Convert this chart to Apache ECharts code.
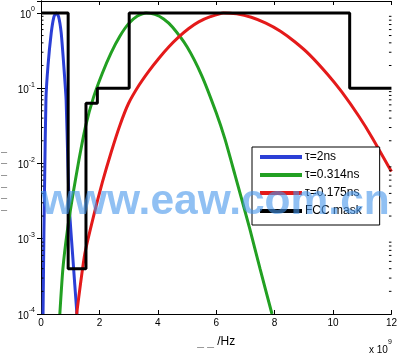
<!DOCTYPE html>
<html>
<head>
<meta charset="utf-8">
<script src="https://cdn.jsdelivr.net/npm/echarts@6/dist/echarts.min.js"></script>
<style>
  html, body { margin: 0; padding: 0; background: #fff; }
  #chart { width: 400px; height: 353px; }
</style>
</head>
<body>
<div id="chart"></div>
<script>
// frequencies in GHz (axis shows x 10^9 Hz), normalised PSD
var blueFreq = [0.07, 0.10, 0.125, 0.17, 0.24, 0.35, 0.44, 0.52, 0.60, 0.69, 0.78, 0.86, 0.92, 0.97, 1.09, 1.23];
var blueVal = [1e-4, 1.2e-3, 6e-3, 0.072, 0.2, 0.54, 0.88, 1.0, 0.9, 0.55, 0.2, 0.07, 0.01, 0.0026, 5.6e-4, 1e-4];

var greenFreq = [0.645, 0.75, 0.9, 1.09, 1.3, 1.53, 1.8, 2.1, 2.4, 2.7, 3.0, 3.3, 3.6, 3.9, 4.2, 4.5, 5.0, 5.5, 6.0, 6.3, 6.64, 7.15, 7.5, 7.91];
var greenVal = [1e-4, 4e-4, 1.26e-3, 3.8e-3, 0.0112, 0.0316, 0.076, 0.158, 0.295, 0.49, 0.72, 0.91, 1.0, 0.955, 0.83, 0.65, 0.355, 0.148, 0.047, 0.021, 0.0071, 0.00135, 4e-4, 1e-4];

var redFreq = [1.22, 1.5, 1.8, 2.1, 2.4, 2.7, 3.0, 3.36, 3.7, 4.04, 4.38, 4.72, 5.06, 5.4, 5.8, 6.25, 6.7, 7.2, 7.7, 8.2, 8.7, 9.2, 9.81, 10.3, 10.89, 11.34, 12.0];
var redVal = [1e-4, 6.3e-4, 2e-3, 5.6e-3, 0.014, 0.032, 0.063, 0.11, 0.17, 0.25, 0.355, 0.48, 0.62, 0.76, 0.89, 1.0, 0.97, 0.875, 0.73, 0.57, 0.41, 0.277, 0.153, 0.089, 0.042, 0.022, 0.0078];

var maskFreq = [0, 0.93, 1.54, 1.93, 3.02, 10.57, 12];
var maskVal = [1, 4e-4, 0.063, 0.1, 1, 0.1, 0.1];

var seriesNames = ['τ=2ns', 'τ=0.314ns', 'τ=0.175ns', 'FCC mask'];
var xTicks = [0, 2, 4, 6, 8, 10, 12];
var minorTicks = [];
[1e-4, 1e-3, 1e-2, 1e-1].forEach(function (d) {
  for (var k = 2; k <= 9; k++) minorTicks.push(+(k * d).toPrecision(3));
});

function pairs(xs, ys) {
  return xs.map(function (x, i) { return [x, ys[i]]; });
}

var chart = echarts.init(document.getElementById('chart'));
var font = 'Liberation Sans, Arial, sans-serif';

function powLabel(v) {
  var l = Math.log10(v);
  var e = Math.round(l);
  if (Math.abs(l - e) > 1e-6) return '';
  return '{b|10}{s|' + e + '}';
}

var yCommon = {
  type: 'log',
  min: 1e-4,
  max: 1.438,
  splitLine: { show: false },
  axisLine: { show: true, lineStyle: { color: '#000', width: 1 } },
  axisTick: { show: true, inside: true, length: 4, lineStyle: { color: '#000' } }
};

var option = {
  animation: false,
  textStyle: { fontFamily: font },
  grid: { left: 41, right: 5, top: 1, bottom: 36, containLabel: false },
  xAxis: [{
    type: 'value',
    min: 0, max: 12, interval: 2,
    name: '{u|_ _} /Hz',
    nameLocation: 'middle',
    nameGap: 22,
    nameTextStyle: {
      fontSize: 12, color: '#000',
      rich: { u: { fontSize: 12, color: '#888' } }
    },
    splitLine: { show: false },
    axisLine: { show: true, lineStyle: { color: '#000' } },
    axisTick: { show: true, inside: true, length: 4, lineStyle: { color: '#000' } },
    axisLabel: { fontSize: 10, color: '#000', margin: 4, fontFamily: font }
  }, {
    type: 'value',
    position: 'top',
    min: 0, max: 12, interval: 2,
    splitLine: { show: false },
    axisLine: { show: true, lineStyle: { color: '#000' } },
    axisTick: { show: true, inside: true, length: 4, lineStyle: { color: '#000' } },
    axisLabel: { show: false }
  }],
  yAxis: [Object.assign({}, yCommon, {
    position: 'left',
    axisLabel: {
      formatter: powLabel,
      margin: 6,
      color: '#000',
      rich: {
        b: { fontSize: 10, fontFamily: font, color: '#000', lineHeight: 14, verticalAlign: 'bottom' },
        s: { fontSize: 7, fontFamily: font, color: '#000', lineHeight: 14, verticalAlign: 'top' }
      }
    }
  }), Object.assign({}, yCommon, {
    position: 'right',
    axisLabel: { show: false }
  })],
  legend: {
    data: seriesNames,
    orient: 'vertical',
    left: 252,
    top: 147,
    icon: 'rect',
    itemWidth: 42,
    itemHeight: 4,
    itemGap: 4,
    padding: [3, 18, 7, 8],
    borderColor: '#000',
    borderWidth: 1,
    backgroundColor: '#fff',
    textStyle: { fontSize: 12, color: '#000', fontFamily: font, lineHeight: 14, padding: [0, 0, 0, -2] }
  },
  series: [{
    name: seriesNames[0], type: 'line', data: pairs(blueFreq, blueVal),
    showSymbol: false, smooth: 0.2, color: '#2b3fd6', lineStyle: { width: 3 }
  }, {
    name: seriesNames[1], type: 'line', data: pairs(greenFreq, greenVal),
    showSymbol: false, smooth: 0.2, color: '#22a022', lineStyle: { width: 3 }
  }, {
    name: seriesNames[2], type: 'line', data: pairs(redFreq, redVal),
    showSymbol: false, smooth: 0.2, color: '#e41a1a', lineStyle: { width: 3 }
  }, {
    name: seriesNames[3], type: 'line', data: pairs(maskFreq, maskVal),
    step: 'end', showSymbol: false, color: '#000', lineStyle: { width: 3 }
  }, {
    // minor log ticks, both sides, inward
    type: 'custom',
    silent: true,
    data: minorTicks.map(function (v) { return [0, v]; }),
    renderItem: function (params, api) {
      var v = api.value(1);
      var pl = api.coord([xTicks[0], v]);
      var pr = api.coord([xTicks[xTicks.length - 1], v]);
      var st = { stroke: '#000', lineWidth: 1 };
      return {
        type: 'group',
        children: [
          { type: 'line', shape: { x1: pl[0], y1: pl[1], x2: pl[0] + 2.5, y2: pl[1] }, style: st },
          { type: 'line', shape: { x1: pr[0] - 2.5, y1: pr[1], x2: pr[0], y2: pr[1] }, style: st }
        ]
      };
    },
    z: 5
  }],
  graphic: [{
    type: 'text',
    left: 369, top: 339,
    style: {
      text: '{a|x 10}{s|9}',
      rich: {
        a: { fontSize: 10, fontFamily: font, fill: '#000', lineHeight: 16, verticalAlign: 'bottom' },
        s: { fontSize: 7, fontFamily: font, fill: '#000', lineHeight: 16, verticalAlign: 'top' }
      }
    }
  }, {
    type: 'text',
    left: 1, top: 146,
    style: {
      text: '–\n–\n–\n–\n–\n–',
      font: '11px ' + font,
      lineHeight: 11.6,
      fill: '#777'
    }
  }, {
    type: 'text',
    z: 100,
    silent: true,
    style: {
      x: 41, y: 202,
      text: 'www.eaw.com.cn',
      font: 'bold 42.5px ' + font,
      fill: 'rgba(70,150,235,0.6)',
      textVerticalAlign: 'middle'
    }
  }]
};

chart.setOption(option);
</script>
</body>
</html>
